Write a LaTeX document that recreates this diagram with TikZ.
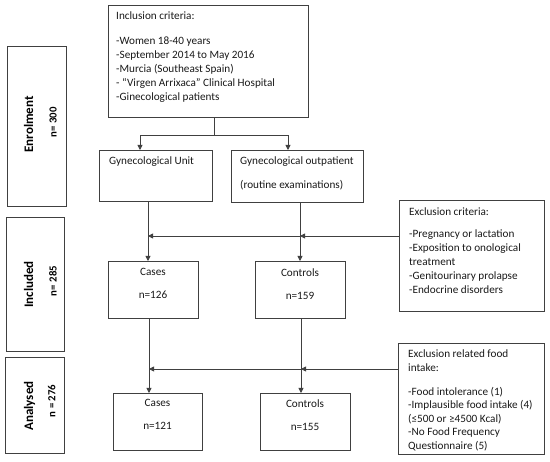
\documentclass[tikz,border=0pt]{standalone}
\usepackage{fontspec}
\setmainfont{Carlito}
\usetikzlibrary{arrows.meta,calc}
\begin{document}
\begin{tikzpicture}[x=1pt,y=-1pt,
  box/.style={draw=black!75, line width=0.8pt, inner sep=0pt, anchor=north west},
  txt/.style={inner sep=0pt, align=left, anchor=north west, font=\fontsize{11.2}{14}\selectfont, text=black!90},
  ctxt/.style={inner sep=0pt, align=center, anchor=north, font=\fontsize{11.2}{14}\selectfont, text=black!90},
  side/.style={inner sep=0pt, rotate=90, anchor=base, font=\bfseries\fontsize{13}{15}\selectfont},
  sidet/.style={inner sep=0pt, rotate=90, anchor=base, font=\bfseries\fontsize{10.8}{13}\selectfont},
  line/.style={draw=black!75, line width=0.8pt},
  arr/.style={line, -{Triangle[length=5pt,width=5pt]}},
]
\useasboundingbox (0,0) rectangle (550,462);

% boxes
\node[box, minimum width=200pt, minimum height=112pt] (incl) at (108,5) {};
\node[box, minimum width=59pt, minimum height=160pt] (enrol) at (7,46) {};
\node[box, minimum width=58pt, minimum height=134pt] (inclu) at (6,217) {};
\node[box, minimum width=59pt, minimum height=96pt] (anal) at (5,357) {};
\node[box, minimum width=113pt, minimum height=51pt] (gunit) at (99,150) {};
\node[box, minimum width=132pt, minimum height=52pt] (gout) at (231,150) {};
\node[box, minimum width=145pt, minimum height=111pt] (excl) at (399,200) {};
\node[box, minimum width=90pt, minimum height=57pt] (cases1) at (108,261) {};
\node[box, minimum width=90pt, minimum height=57pt] (ctrl1) at (255,261) {};
\node[box, minimum width=89pt, minimum height=57pt] (cases2) at (113,393) {};
\node[box, minimum width=90pt, minimum height=57pt] (ctrl2) at (260,393) {};
\node[box, minimum width=146pt, minimum height=111pt] (food) at (398,343) {};

% texts
\node[txt] (tincl) at (116,12) {Inclusion criteria:\\[10.5pt] -Women 18-40 years\\ -September 2014 to May 2016\\ -Murcia (Southeast Spain)\\ - “Virgen Arrixaca” Clinical Hospital\\ -Ginecological patients};
\node[txt] (tgu) at (109,157) {Gynecological Unit};
\node[txt] (tgo) at (240,157) {Gynecological outpatient\\[10pt] (routine examinations)};
\node[txt] (texc) at (409,208) {Exclusion criteria:\\[8pt] -Pregnancy or lactation\\ -Exposition to onological\\ treatment\\ -Genitourinary prolapse\\ -Endocrine disorders};
\node[txt, font=\fontsize{11.2}{13.6}\selectfont] (tfood) at (408,350) {Exclusion related food\\ intake:\\[10pt] -Food intolerance (1)\\ -Implausible food intake (4)\\ (≤500 or ≥4500 Kcal)\\ -No Food Frequency\\ Questionnaire (5)};
\node[ctxt] (tc1) at (153,268.5) {Cases\\[9pt] n=126};
\node[ctxt] (tk1) at (300,268.5) {Controls\\[9pt] n=159};
\node[ctxt] (tc2) at (157.5,399.5) {Cases\\[9pt] n=121};
\node[ctxt] (tk2) at (305,399.5) {Controls\\[9pt] n=155};

\node[side] (lenr) at (33,124.5) {Enrolment};
\node[sidet] (nenr) at (56.5,122.5) {n= 300};
\node[side] (linc) at (33,284.5) {Included};
\node[sidet] (ninc) at (56.5,281) {n= 285};
\node[side] (lana) at (33,406) {Analysed};
\node[sidet] (nana) at (55.5,401) {n = 276};

% connectors
\coordinate (s0) at (214,135);
\coordinate (sL) at (140,135);
\coordinate (sR) at (288,135);
\draw[line] (incl.south -| s0) -- (s0);
\draw[arr] (s0) -- (sL) -- (gunit.north -| sL);
\draw[arr] (s0) -- (sR) -- (gout.north -| sR);

\coordinate (jA) at (148,236);
\coordinate (jB) at (300,236);
\draw[arr] (gunit.south -| jA) -- (cases1.north -| jA);
\draw[arr] (gout.south -| jB) -- (ctrl1.north -| jB);
\draw[arr] (excl.west |- jB) -- (jB);
\draw[arr] (jB) -- (jA);

\coordinate (kA) at (149,369);
\coordinate (kB) at (301,369);
\draw[arr] (cases1.south -| kA) -- (cases2.north -| kA);
\draw[arr] (ctrl1.south -| kB) -- (ctrl2.north -| kB);
\draw[arr] (food.west |- kB) -- (kB);
\draw[arr] (kB) -- (kA);
\end{tikzpicture}
\end{document}
